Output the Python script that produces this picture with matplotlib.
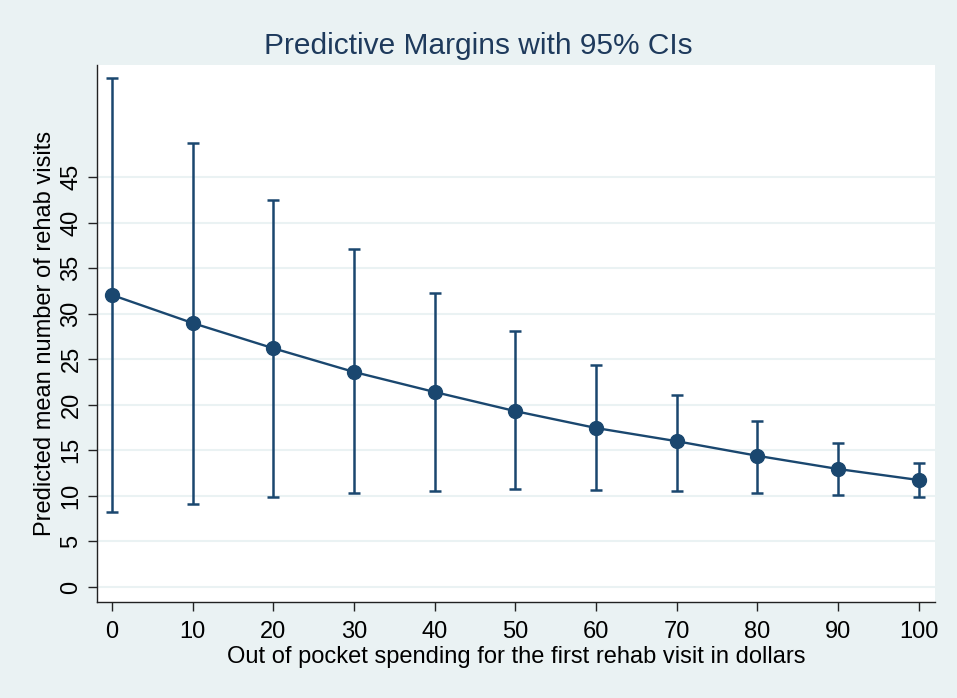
import matplotlib
matplotlib.use("Agg")
import matplotlib.pyplot as plt
import numpy as np

plt.rcParams['font.family'] = ['Liberation Sans', 'DejaVu Sans']

spending = [0, 10, 20, 30, 40, 50, 60, 70, 80, 90, 100]
margin = [32.05, 28.97, 26.2, 23.6, 21.4, 19.3, 17.45, 16.0, 14.4, 12.95, 11.74]
ci_low = [8.2, 9.1, 9.9, 10.3, 10.5, 10.75, 10.65, 10.5, 10.3, 10.1, 9.9]
ci_high = [55.9, 48.7, 42.5, 37.1, 32.3, 28.1, 24.4, 21.1, 18.2, 15.8, 13.6]
yticks = [0, 5, 10, 15, 20, 25, 30, 35, 40, 45]
xticks = [0, 10, 20, 30, 40, 50, 60, 70, 80, 90, 100]

navy = '#1a476f'
bg = '#eaf2f3'

fig = plt.figure(figsize=(9.57, 6.98), dpi=100, facecolor=bg)
ax = fig.add_axes([0.1014, 0.1375, 0.8756, 0.7694])
ax.set_facecolor('white')

m = np.array(margin)
lo = np.array(ci_low)
hi = np.array(ci_high)
ax.errorbar(spending, m, yerr=[m - lo, hi - m], fmt='none', ecolor=navy,
            elinewidth=1.8, capsize=4.5, capthick=1.8, zorder=2)
ax.plot(spending, m, color=navy, lw=1.7, marker='o', markersize=10,
        markerfacecolor=navy, markeredgecolor=navy, zorder=3)

ax.set_xlim(-1.86, 102.0)
ax.set_ylim(-1.65, 57.3)
ax.set_yticks(yticks)
ax.set_xticks(xticks)
ax.grid(axis='y', color='#eaf2f3', lw=1.5, zorder=0)
ax.set_axisbelow(True)
for s in ['top', 'right']:
    ax.spines[s].set_visible(False)
for s in ['left', 'bottom']:
    ax.spines[s].set_color('#222222')
    ax.spines[s].set_linewidth(1.0)
ax.tick_params(axis='both', direction='out', length=6.5, width=1, color='#222222',
               labelsize=17, labelcolor='black')
for lab in ax.get_yticklabels():
    lab.set_rotation(90)
    lab.set_va('center')
ax.tick_params(axis='x', pad=7)
ax.tick_params(axis='y', pad=4)

ax.set_xlabel('Out of pocket spending for the first rehab visit in dollars',
              fontsize=17, labelpad=2)
ax.set_ylabel('Predicted mean number of rehab visits', fontsize=17, labelpad=3)
fig.suptitle('Predictive Margins with 95% CIs', fontsize=21.5, color='#1e3a5c',
             y=0.954)

fig.savefig('out.png', dpi=100, facecolor=bg)
